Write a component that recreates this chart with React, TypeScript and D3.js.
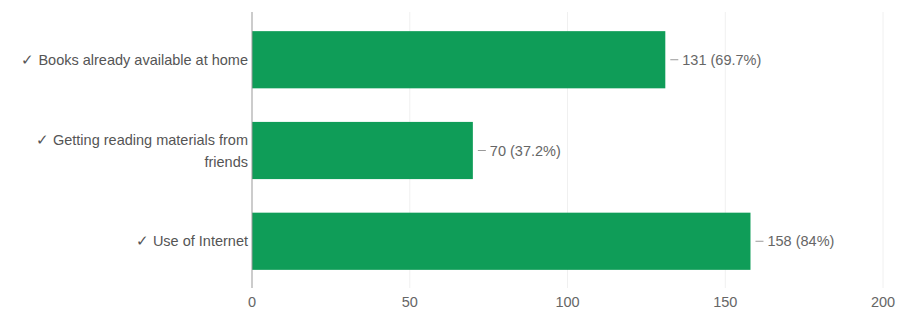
import React from "react";
import * as d3 from "d3";

const categories: string[][] = [
  ["✓ Books already available at home"],
  ["✓ Getting reading materials from", "friends"],
  ["✓ Use of Internet"],
];
const values: number[] = [131, 70, 158];
const valueLabels: string[] = ["131 (69.7%)", "70 (37.2%)", "158 (84%)"];
const xTicks: number[] = [0, 50, 100, 150, 200];

const W = 902;
const H = 315;

export default function App() {
  const x = d3.scaleLinear().domain([0, 200]).range([252, 883]);
  const y = d3
    .scaleBand<number>()
    .domain(d3.range(values.length))
    .range([13, 288])
    .paddingInner(0.37)
    .paddingOuter(0.2);
  const font = "'Liberation Sans', Arial, sans-serif";
  const fs = 14.5;
  const lh = 22;
  return (
    <svg
      width={W}
      height={H}
      style={{ position: "fixed", left: 0, top: 0, background: "#fff" }}
      fontFamily={font}
    >
      {xTicks.slice(1).map((t) => (
        <line key={t} x1={x(t)} x2={x(t)} y1={12} y2={288} stroke="#f0f0f0" strokeWidth={1} />
      ))}
      {values.map((v, i) => {
        const cy = y(i)! + y.bandwidth() / 2;
        const n = categories[i].length;
        return (
          <g key={i}>
            <rect x={x(0)} y={y(i)!} width={x(v) - x(0)} height={y.bandwidth()} fill="#0f9d58" />
            <line x1={x(v) + 5} x2={x(v) + 13} y1={cy} y2={cy} stroke="#999" />
            <text x={x(v) + 17} y={cy} dy="0.35em" fontSize={fs} fill="#666">
              {valueLabels[i]}
            </text>
            <text
              x={x(0) - 4}
              y={cy - ((n - 1) * lh) / 2}
              fontSize={fs}
              fill="#555"
              textAnchor="end"
            >
              {categories[i].map((line, j) => (
                <tspan key={j} x={x(0) - 4} dy={j === 0 ? "0.35em" : lh}>
                  {line}
                </tspan>
              ))}
            </text>
          </g>
        );
      })}
      <line x1={x(0)} x2={x(0)} y1={12} y2={288} stroke="#999" strokeWidth={1} />
      {xTicks.map((t) => (
        <text key={t} x={x(t)} y={307} fontSize={fs} fill="#666" textAnchor="middle">
          {t}
        </text>
      ))}
    </svg>
  );
}
